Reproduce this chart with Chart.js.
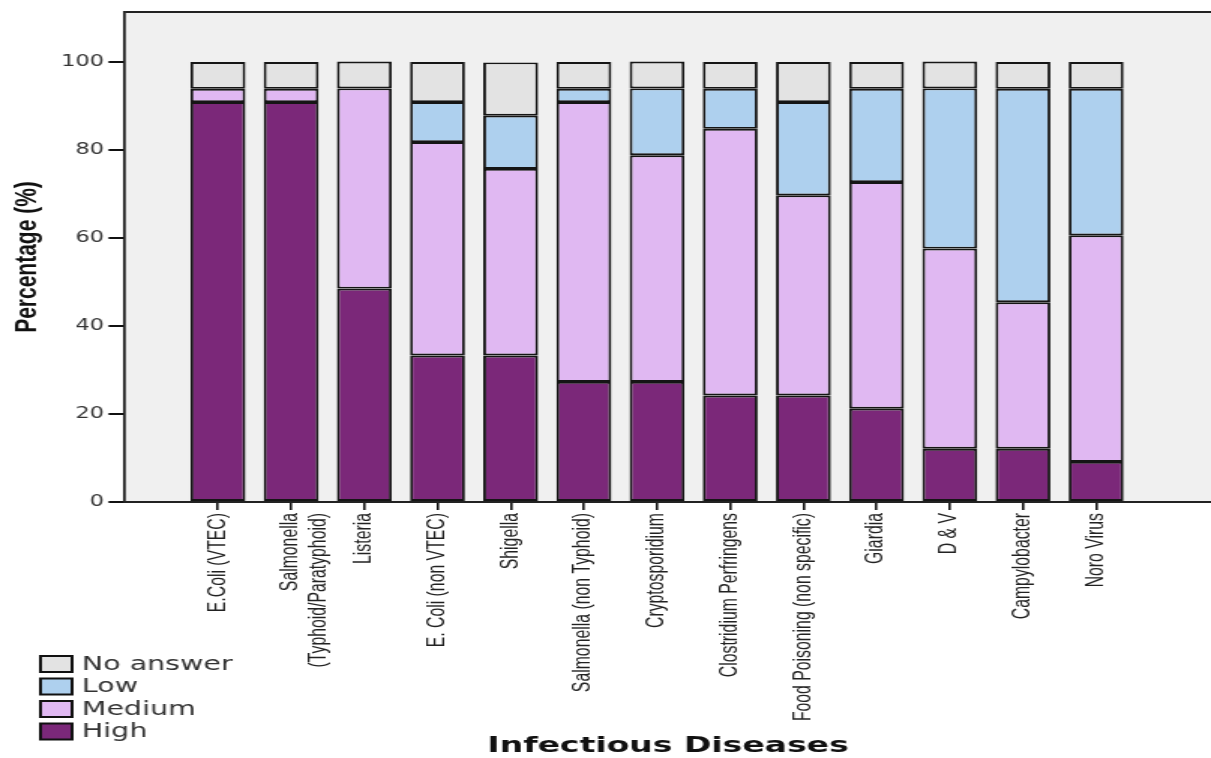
<!DOCTYPE html>
<html>
<head>
<meta charset="utf-8">
<script src="https://cdn.jsdelivr.net/npm/chart.js@4/dist/chart.umd.min.js"></script>
<style>
  html, body { margin: 0; padding: 0; background: #ffffff; overflow: hidden; }
  #c { display: block; width: 1211px; height: 758px; }
</style>
</head>
<body>
<canvas id="c" width="807" height="758" style="width:1211px;height:758px"></canvas>
<script>
// ---- data ----
const categories = [
  'E.Coli (VTEC)',
  ['Salmonella', '(Typhoid/Paratyphoid)'],
  'Listeria',
  'E. Coli (non VTEC)',
  'Shigella',
  'Salmonella (non Typhoid)',
  'Cryptosporidium',
  'Clostridium Perfringens',
  'Food Poisoning (non specific)',
  'Giardia',
  'D & V',
  'Campylobacter',
  'Noro Virus'
];
const highValues     = [90.9, 90.9, 48.5, 33.3, 33.3, 27.3, 27.3, 24.2, 24.2, 21.2, 12.1, 12.1, 9.1];
const mediumValues   = [3.0, 3.0, 45.5, 48.5, 42.4, 63.6, 51.5, 60.6, 45.5, 51.5, 45.5, 33.3, 51.5];
const lowValues      = [0, 0, 0, 9.1, 12.1, 3.0, 15.2, 9.1, 21.2, 21.2, 36.4, 48.5, 33.3];
const noAnswerValues = [6.1, 6.1, 6.1, 9.1, 12.1, 6.1, 6.1, 6.1, 9.1, 6.1, 6.1, 6.1, 6.1];
const yTickValues = [0, 20, 40, 60, 80, 100];
const seriesNames = ['High', 'Medium', 'Low', 'No answer'];

// ---- styles ----
const colors = ['#7b2879', '#e0b8f2', '#aed0ee', '#e3e3e3'];
const seriesValues = [highValues, mediumValues, lowValues, noAnswerValues];

const toPoints = arr => arr.map((v, i) => ({ x: i, y: v }));

const datasets = seriesNames.map((name, k) => ({
  label: name,
  data: toPoints(seriesValues[k]),
  backgroundColor: colors[k],
  borderColor: '#151515',
  borderWidth: 1.9,
  borderSkipped: false,
  categoryPercentage: 0.75,
  barPercentage: 1.0
}));

const plotBg = {
  id: 'plotBg',
  beforeDraw(chart) {
    const { ctx, chartArea: a } = chart;
    ctx.save();
    ctx.fillStyle = '#f0f0f0';
    ctx.fillRect(a.left, a.top, a.right - a.left, a.bottom - a.top);
    ctx.strokeStyle = '#222222';
    ctx.lineWidth = 2;
    ctx.beginPath();
    ctx.moveTo(a.left, a.top);
    ctx.lineTo(a.right + 2, a.top);
    ctx.stroke();
    ctx.restore();
  }
};

const sideLegend = {
  id: 'sideLegend',
  afterDraw(chart) {
    const { ctx } = chart;
    const items = chart.data.datasets.slice().reverse();
    const rowY = [664, 686.5, 709, 731.5];
    ctx.save();
    ctx.font = '19px "DejaVu Sans", sans-serif';
    ctx.textBaseline = 'middle';
    ctx.textAlign = 'left';
    items.forEach((ds, i) => {
      const y = rowY[i];
      ctx.fillStyle = ds.backgroundColor;
      ctx.fillRect(27, y - 8, 21, 16);
      ctx.strokeStyle = '#111111';
      ctx.lineWidth = 2;
      ctx.strokeRect(27, y - 8, 21, 16);
      ctx.fillStyle = '#333333';
      ctx.fillText(ds.label, 54.5, y + 1);
    });
    ctx.restore();
  }
};

new Chart(document.getElementById('c'), {
  type: 'bar',
  data: { datasets },
  options: {
    responsive: false,
    devicePixelRatio: 1,
    animation: false,
    layout: { padding: { left: 0, right: 0, top: 12, bottom: 0 } },
    plugins: {
      legend: { display: false },
      tooltip: { enabled: false }
    },
    scales: {
      x: {
        type: 'linear',
        stacked: true,
        min: -1.27,
        max: 13.57,
        offset: false,
        afterBuildTicks(scale) {
          scale.ticks = categories.map((_, i) => ({ value: i }));
        },
        afterFit(scale) { scale.height = 256; },
        ticks: {
          autoSkip: false,
          maxRotation: 90,
          minRotation: 90,
          padding: 3,
          color: '#222222',
          font: { family: '"Liberation Sans", Arial, sans-serif', size: 15.8, lineHeight: 1.15 },
          callback(value) { return categories[value]; }
        },
        grid: {
          display: true,
          offset: false,
          drawOnChartArea: false,
          drawTicks: true,
          tickLength: 8,
          color: '#111111',
          lineWidth: 1.6
        },
        border: { display: true, color: '#222222', width: 2 },
        title: {
          display: true,
          text: 'Infectious Diseases',
          color: '#111111',
          font: { family: '"DejaVu Sans", sans-serif', size: 22, weight: 'bold', lineHeight: 1.0 },
          padding: { top: 0, bottom: 1 }
        }
      },
      y: {
        stacked: true,
        min: 0,
        max: 111.36,
        afterBuildTicks(scale) {
          scale.ticks = yTickValues.map(v => ({ value: v }));
        },
        afterFit(scale) { scale.width = 83.3; },
        ticks: {
          padding: 3,
          color: '#333333',
          font: { family: '"DejaVu Sans", sans-serif', size: 15 }
        },
        grid: {
          display: true,
          drawOnChartArea: false,
          drawTicks: true,
          tickLength: 11,
          color: '#111111',
          lineWidth: 2
        },
        border: { display: true, color: '#222222', width: 1.8 },
        title: {
          display: true,
          text: 'Percentage (%)',
          color: '#111111',
          font: { family: '"Liberation Sans", Arial, sans-serif', size: 21, weight: 'bold', lineHeight: 1.2 },
          padding: { top: 6, bottom: 0 }
        }
      }
    }
  },
  plugins: [plotBg, sideLegend]
});
</script>
</body>
</html>
